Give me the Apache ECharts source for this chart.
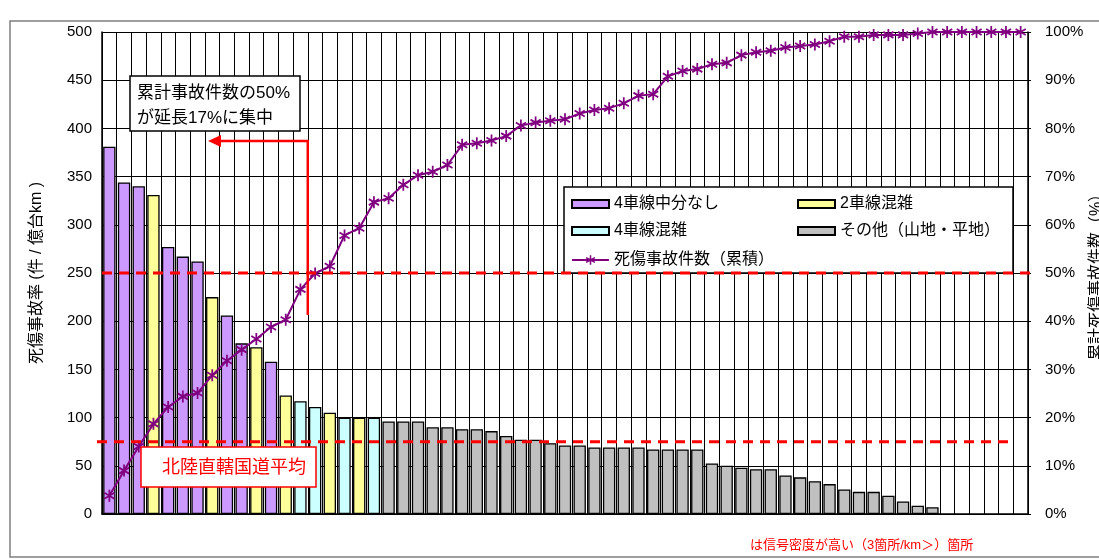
<!DOCTYPE html>
<html>
<head>
<meta charset="utf-8">
<script src="https://cdn.jsdelivr.net/npm/echarts@6/dist/echarts.min.js"></script>
<style>
  html, body { margin: 0; padding: 0; background: #fff; }
  #main { width: 1099px; height: 559px; }
</style>
</head>
<body>
<div id="main"></div>
<script>
// Sections ordered by fatal/injury accident rate (63 slots on the category axis)
const categories = [
  1, 2, 3, 4, 5, 6, 7, 8, 9, 10, 11, 12, 13, 14, 15, 16, 17, 18, 19, 20,
  21, 22, 23, 24, 25, 26, 27, 28, 29, 30, 31, 32, 33, 34, 35, 36, 37, 38, 39, 40,
  41, 42, 43, 44, 45, 46, 47, 48, 49, 50, 51, 52, 53, 54, 55, 56, 57, 58, 59, 60,
  61, 62, 63
];

// Accident rate (件/億台km) per section
const rates = [
  381, 344, 340, 331, 277, 267, 262, 225, 206, 177,
  173, 158, 123, 117, 111, 105, 100, 100, 100, 96,
  96, 96, 90, 90, 88, 88, 86, 81, 77, 77,
  73.5, 71, 71, 69, 69, 69, 69, 67, 67, 67,
  67, 52.5, 50, 48, 46.5, 46.5, 40, 38, 34, 31,
  25.5, 23, 23, 19, 13, 8.5, 7
];

// Road type per section: 0 = 4車線中分なし, 1 = 2車線混雑, 2 = 4車線混雑, 3 = その他
const roadType = [
  0, 0, 0, 1, 0, 0, 0, 1, 0, 0,
  1, 0, 1, 2, 2, 1, 2, 1, 2, 3,
  3, 3, 3, 3, 3, 3, 3, 3, 3, 3,
  3, 3, 3, 3, 3, 3, 3, 3, 3, 3,
  3, 3, 3, 3, 3, 3, 3, 3, 3, 3,
  3, 3, 3, 3, 3, 3, 3
];

// Cumulative share of fatal/injury accidents (%)
const cumulative = [
  3.8, 9.0, 14.0, 18.7, 22.2, 24.4, 25.1, 28.8, 31.8, 34.1,
  36.3, 38.8, 40.3, 46.6, 49.9, 51.4, 57.8, 59.3, 64.7, 65.5,
  68.3, 70.3, 71.0, 72.4, 76.6, 76.9, 77.5, 78.4, 80.6, 81.2,
  81.6, 81.9, 83.1, 83.8, 84.2, 85.2, 86.8, 87.1, 90.8, 91.9,
  92.3, 93.3, 93.6, 95.2, 95.8, 96.1, 96.8, 97.1, 97.4, 98.1,
  99.0, 99.0, 99.4, 99.4, 99.4, 99.7, 100, 100, 100, 100,
  100, 100, 100
];

const typeNames = ['4車線中分なし', '2車線混雑', '4車線混雑', 'その他（山地・平地）'];
const typeColors = ['#CC99FF', '#FFFF99', '#CCFFFF', '#C0C0C0'];
const lineName = '死傷事故件数（累積）';
const rightTitle = '累計死傷事故件数（%）';

const rateTicks = { min: 0, max: 500, interval: 50 };
const shareTicks = { min: 0, max: 100, interval: 10 };

const AVG_RATE = 75;      // 北陸直轄国道平均
const HALF_RATE = 250;    // level of the 50% share on the left scale
const HALF_INDEX = 14;    // first section past the 50% share

const FONT = "'Liberation Sans', 'Noto Sans CJK JP', sans-serif";

// six-armed asterisk marker
const starPath = 'path://M-0.9,-6L0.9,-6L0.9,6L-0.9,6Z' +
  'M4.746,-3.779L5.646,-2.221L-4.746,3.779L-5.646,2.221Z' +
  'M5.646,2.221L4.746,3.779L-5.646,-2.221L-4.746,-3.779Z';

const chart = echarts.init(document.getElementById('main'), null, { renderer: 'canvas' });

const barSeries = typeNames.map((name, t) => ({
  name: name,
  type: 'bar',
  stack: 'rate',
  barWidth: '84%',
  data: rates.map((v, i) => (roadType[i] === t ? v : '-')),
  itemStyle: { color: typeColors[t], borderColor: '#000', borderWidth: 1.3 },
  emphasis: { disabled: true },
  animation: false
}));

const legendCommon = {
  orient: 'vertical',
  padding: 0,
  itemWidth: 37,
  itemHeight: 8,
  itemGap: 9,
  icon: 'rect',
  selectedMode: false,
  textStyle: { fontSize: 16, lineHeight: 18, color: '#000', fontFamily: FONT }
};

chart.setOption({
  animation: false,
  textStyle: { fontFamily: FONT },
  grid: { left: 102, right: 71, top: 32, bottom: 45, containLabel: false, outerBoundsMode: 'none' },
  legend: [
    Object.assign({}, legendCommon, { data: [typeNames[0], typeNames[2]], left: 571, top: 195 }),
    Object.assign({}, legendCommon, { data: [typeNames[1], typeNames[3]], left: 797, top: 195 }),
    Object.assign({}, legendCommon, { data: [lineName], left: 571, top: 251, itemHeight: 12, icon: null })
  ],
  xAxis: {
    type: 'category',
    data: categories,
    boundaryGap: true,
    axisLine: { lineStyle: { color: '#000', width: 1.5 } },
    axisTick: { show: false },
    axisLabel: { show: false },
    splitLine: { show: true, interval: 0, lineStyle: { color: '#000', width: 1 } }
  },
  yAxis: [
    {
      type: 'value',
      min: rateTicks.min, max: rateTicks.max, interval: rateTicks.interval,
      name: '死傷事故率 (件 / 億台km )',
      nameLocation: 'middle',
      nameRotate: 90,
      nameGap: 57,
      nameTextStyle: { fontSize: 16, color: '#000', fontFamily: FONT },
      axisLine: { show: true, lineStyle: { color: '#000', width: 1.5 } },
      axisTick: { show: false },
      axisLabel: { fontSize: 15, color: '#000', margin: 10, fontFamily: FONT },
      splitLine: { show: true, lineStyle: { color: '#000', width: 1 } }
    },
    {
      type: 'value',
      position: 'right',
      min: shareTicks.min, max: shareTicks.max, interval: shareTicks.interval,
      axisLine: { show: true, lineStyle: { color: '#000', width: 1.5 } },
      axisTick: { show: true, length: 3, inside: false, lineStyle: { color: '#000' } },
      axisLabel: { fontSize: 15, color: '#000', margin: 17, formatter: '{value}%', fontFamily: FONT },
      splitLine: { show: false }
    }
  ],
  series: barSeries.concat([
    {
      name: lineName,
      type: 'line',
      yAxisIndex: 1,
      data: cumulative,
      showSymbol: true,
      showAllSymbol: true,
      symbol: starPath,
      symbolSize: [11, 12],
      lineStyle: { color: '#800080', width: 2 },
      itemStyle: { color: '#800080' },
      emphasis: { disabled: true },
      z: 5,
      animation: false
    }
  ])
});

// annotations placed from the axes
function drawAnnotations() {
  const yAvg = chart.convertToPixel({ yAxisIndex: 0 }, AVG_RATE);
  const yHalf = chart.convertToPixel({ yAxisIndex: 0 }, HALF_RATE);
  const yMid = chart.convertToPixel({ yAxisIndex: 0 }, (rateTicks.min + rateTicks.max) / 2);
  const xA = chart.convertToPixel({ xAxisIndex: 0 }, HALF_INDEX - 1);
  const xB = chart.convertToPixel({ xAxisIndex: 0 }, HALF_INDEX);
  const xSplit = (xA + xB) / 2;
  const red = '#FF0000';

  chart.setOption({
    graphic: [
      // legend frame
      { type: 'rect', z: 3, shape: { x: 564, y: 187, width: 449, height: 86 },
        style: { fill: '#fff', stroke: '#000', lineWidth: 1.5 } },
      // reference levels
      { type: 'line', z: 20, shape: { x1: 102, y1: yHalf, x2: 1035, y2: yHalf },
        style: { stroke: red, lineWidth: 3, lineDash: [10, 7] } },
      { type: 'line', z: 20, shape: { x1: 97, y1: yAvg, x2: 1013, y2: yAvg },
        style: { stroke: red, lineWidth: 3, lineDash: [10, 7] } },
      // arrow toward the short stretch holding half of the accidents
      { type: 'polyline', z: 20, shape: { points: [[xSplit, 315], [xSplit, 141], [220, 141]] },
        style: { stroke: red, lineWidth: 2.5, fill: null } },
      { type: 'polygon', z: 20, shape: { points: [[208, 141], [221, 135], [221, 147]] },
        style: { fill: red } },
      // callout box
      { type: 'rect', z: 20, shape: { x: 130, y: 76, width: 170, height: 55 },
        style: { fill: '#fff', stroke: '#000', lineWidth: 1.5 } },
      { type: 'text', z: 21, style: { text: '累計事故件数の50%', x: 137, y: 93, fill: '#000',
        font: '17px ' + FONT, textVerticalAlign: 'middle', verticalAlign: 'middle' } },
      { type: 'text', z: 21, style: { text: 'が延長17%に集中', x: 137, y: 118, fill: '#000',
        font: '17px ' + FONT, textVerticalAlign: 'middle', verticalAlign: 'middle' } },
      // average label
      { type: 'rect', z: 20, shape: { x: 141, y: 447, width: 175, height: 40 },
        style: { fill: '#fff', stroke: red, lineWidth: 1.5 } },
      { type: 'text', z: 21, style: { text: '北陸直轄国道平均', x: 162, y: 468, fill: red,
        font: '18px ' + FONT, textVerticalAlign: 'middle', verticalAlign: 'middle' } },
      // right axis title, running off the right edge
      { type: 'text', z: 21, x: 1097, y: yMid, rotation: Math.PI / 2,
        style: { text: rightTitle, x: 0, y: 0, fill: '#000', font: '16px ' + FONT,
          textAlign: 'center', align: 'center', textVerticalAlign: 'middle', verticalAlign: 'middle' } },
      // footnote
      { type: 'text', z: 21, style: { text: 'は信号密度が高い（3箇所/km＞）箇所', x: 750, y: 545, fill: red,
        font: '13px ' + FONT, textVerticalAlign: 'middle', verticalAlign: 'middle' } },
      // outer frame
      { type: 'rect', z: 30, shape: { x: 10, y: 21, width: 1110, height: 536 },
        style: { fill: null, stroke: '#7f7f7f', lineWidth: 1.5 } }
    ]
  });
}
drawAnnotations();
</script>
</body>
</html>
